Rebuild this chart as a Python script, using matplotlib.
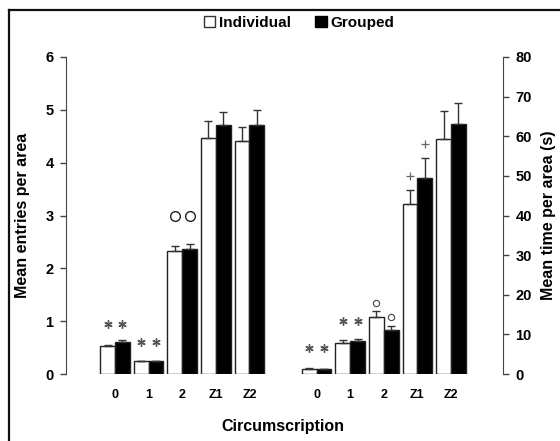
import numpy as np
import matplotlib
matplotlib.use('Agg')
from matplotlib import pyplot as plt
from matplotlib.patches import Patch
from matplotlib.lines import Line2D

## Data ----------------------------------------------------------------------
cats = ['0', '1', '2', 'Z1', 'Z2']

# mean entries per area (left axis)
entries_ind = [0.53, 0.24, 2.33, 4.47, 4.41]
entries_ind_se = [0.02, 0.01, 0.10, 0.31, 0.27]
entries_grp = [0.60, 0.24, 2.36, 4.71, 4.71]
entries_grp_se = [0.04, 0.01, 0.11, 0.24, 0.29]

# mean time per area, s (right axis)
time_ind = [1.2, 7.9, 14.4, 43.0, 59.4]
time_ind_se = [0.3, 0.7, 1.5, 3.5, 6.9]
time_grp = [1.2, 8.3, 11.1, 49.4, 63.0]
time_grp_se = [0.1, 0.6, 0.9, 5.1, 5.4]

# significance marks: (category index, bar, y value, symbol)
marks_entries = [(0, 'ind', 0.95, '*'), (0, 'grp', 0.95, '*'),
                 (1, 'ind', 0.61, '*'), (1, 'grp', 0.61, '*'),
                 (2, 'ind', 3.00, 'O'), (2, 'grp', 3.00, 'O')]
marks_time = [(0, 'ind', 6.6, '*'), (0, 'grp', 6.6, '*'),
              (1, 'ind', 13.4, '*'), (1, 'grp', 13.4, '*'),
              (2, 'ind', 18.0, 'o'), (2, 'grp', 14.4, 'o'),
              (3, 'ind', 49.9, '+'), (3, 'grp', 58.0, '+')]

## Plot ----------------------------------------------------------------------
plt.rcParams['font.family'] = 'Liberation Sans'
plt.rcParams['font.weight'] = 'bold'

fig = plt.figure(figsize=(5.6, 4.41), dpi=100)
ax = fig.add_axes([66/560, 1 - 374/441, (503-66)/560, (374-57)/441])
ax2 = ax.twinx()

w = 0.44
edge = '#222222'
xl = np.arange(1, 6)
xr = np.arange(7, 12)

def bars(a, x, ind, ind_se, grp, grp_se):
    a.bar(x - w, ind, w, align='edge', color='white', edgecolor=edge, linewidth=1)
    a.bar(x, grp, w, align='edge', color='black', edgecolor=edge, linewidth=1)
    a.errorbar(x - w/2, ind, yerr=[np.zeros(5), ind_se], fmt='none',
               ecolor='#333333', elinewidth=1, capsize=3, capthick=1)
    a.errorbar(x + w/2, grp, yerr=[np.zeros(5), grp_se], fmt='none',
               ecolor='#333333', elinewidth=1, capsize=3, capthick=1)

bars(ax, xl, entries_ind, entries_ind_se, entries_grp, entries_grp_se)
bars(ax2, xr, time_ind, time_ind_se, time_grp, time_grp_se)

def marks(a, x, lst):
    for i, b, y, s in lst:
        xx = x[i] - w/2 if b == 'ind' else x[i] + w/2
        if s == '*':
            a.plot(xx, y, marker=(6, 2, 0), ms=6, color='#555555', mew=1)
        elif s == 'O':
            a.plot(xx, y, marker='o', ms=7, mfc='none', mec='#222222', mew=1)
        elif s == 'o':
            a.plot(xx, y, marker='o', ms=4.5, mfc='none', mec='#444444', mew=0.8)
        else:
            a.plot(xx, y, marker='+', ms=6, color='#666666', mew=0.9)

marks(ax, xl, marks_entries)
marks(ax2, xr, marks_time)

ax.set_xlim(-0.46, 12.55)
ax.set_ylim(0, 6)
ax2.set_ylim(0, 80)
ax.set_yticks(range(0, 7))
ax2.set_yticks(range(0, 81, 10))

for a in (ax, ax2):
    for s in ('top', 'bottom'):
        a.spines[s].set_visible(False)
ax.spines['right'].set_visible(False)
ax2.spines['left'].set_visible(False)
ax.spines['left'].set_color('#444444')
ax2.spines['right'].set_color('#444444')

ax.tick_params(axis='y', direction='out', length=4, width=1, color='#444444',
               labelsize=10.5, pad=5)
ax2.tick_params(axis='y', direction='out', length=4, width=1, color='#444444',
                labelsize=10.5, pad=5)
ax.set_xticks(list(xl) + list(xr))
ax.set_xticklabels(cats + cats)
ax.tick_params(axis='x', length=0, labelsize=9, pad=11)

fig.text(23/560, 1 - 215/441, 'Mean entries per area', rotation=90,
         ha='center', va='center', fontsize=11.5, fontweight='bold')
fig.text(549/560, 1 - 215/441, 'Mean time per area (s)', rotation=90,
         ha='center', va='center', fontsize=11.5, fontweight='bold')
fig.text(283/560, 1 - 427/441, 'Circumscription',
         ha='center', va='center', fontsize=11.5, fontweight='bold')

handles = [Patch(facecolor='white', edgecolor='#333333', linewidth=1),
           Patch(facecolor='black', edgecolor='black', linewidth=1)]
fig.legend(handles, ['Individual', 'Grouped'], loc='center',
           bbox_to_anchor=(299/560, 1 - 23/441), ncol=2, frameon=False,
           handlelength=0.75, handleheight=0.75, handletextpad=0.25,
           columnspacing=1.6, prop={'size': 11, 'weight': 'bold'})

# outer frame (top and left edges only, rest is cropped)
fig.add_artist(Line2D([8.5/560, 1], [1 - 10/441, 1 - 10/441], color='#111111', lw=1.6))
fig.add_artist(Line2D([8.5/560, 8.5/560], [0, 1 - 10/441], color='#111111', lw=1.6))

plt.savefig('out.png', dpi=100)
